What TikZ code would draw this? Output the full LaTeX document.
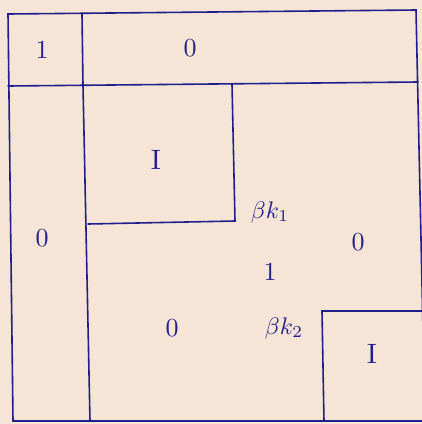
\documentclass[tikz,border=0pt]{standalone}
\usepackage{graphicx}
\definecolor{paper}{RGB}{246,229,214}
\definecolor{ink}{RGB}{32,30,140}
\begin{document}
\begin{tikzpicture}[x=1pt,y=-1pt,
  line/.style={draw=ink,line width=1.6pt,line cap=round},
  lbl/.style={text=ink,inner sep=0pt}]
\fill[paper] (0,0) rectangle (422,424);
\useasboundingbox (0,0) rectangle (422,424);
% named corners
\coordinate (tl) at (8,14);
\coordinate (tr) at (416,10);
\coordinate (rm) at (423,330);
\coordinate (bl) at (13,421);
\coordinate (br) at (423,421);
\coordinate (dtop) at (82,14);
\coordinate (dl) at (8,86);
\coordinate (dr) at (418,82);
\coordinate (dmid) at (83,85);
\coordinate (vbot) at (90,421);
\coordinate (ia) at (232,84);
\coordinate (ib) at (235,221);
\coordinate (ic) at (88,224);
\coordinate (ja) at (322,311);
\coordinate (jb) at (423,311);
\coordinate (jc) at (324,421);
% outer frame
\draw[line] (bl) -- (tl) -- (tr) -- (rm);
\draw[line] (bl) -- (br);
% top row
\draw[line] (dtop) -- (dmid);
\draw[line] (dl) -- (dr);
% left column divider
\draw[line] (dmid) -- (vbot);
% upper identity block
\draw[line] (ia) -- (ib) -- (ic);
% lower identity block
\draw[line] (jb) -- (ja) -- (jc);
% labels
\node[lbl] (one) at (42,50) {\scalebox{2.6}{$1$}};
\node[lbl] (ztop) at (190,48) {\scalebox{2.6}{$0$}};
\node[lbl] (iup) at (156,160) {\scalebox{2.8}{I}};
\node[lbl] (zleft) at (42,238) {\scalebox{2.6}{$0$}};
\node[lbl] (bk1) at (270,212) {\scalebox{2.4}{$\beta k_1$}};
\node[lbl] (zright) at (358,242) {\scalebox{2.6}{$0$}};
\node[lbl] (onemid) at (270,272) {\scalebox{2.6}{$1$}};
\node[lbl] (zlow) at (172,328) {\scalebox{2.6}{$0$}};
\node[lbl] (bk2) at (284,328) {\scalebox{2.4}{$\beta k_2$}};
\node[lbl] (ilow) at (372,354) {\scalebox{2.8}{I}};
\end{tikzpicture}
\end{document}
